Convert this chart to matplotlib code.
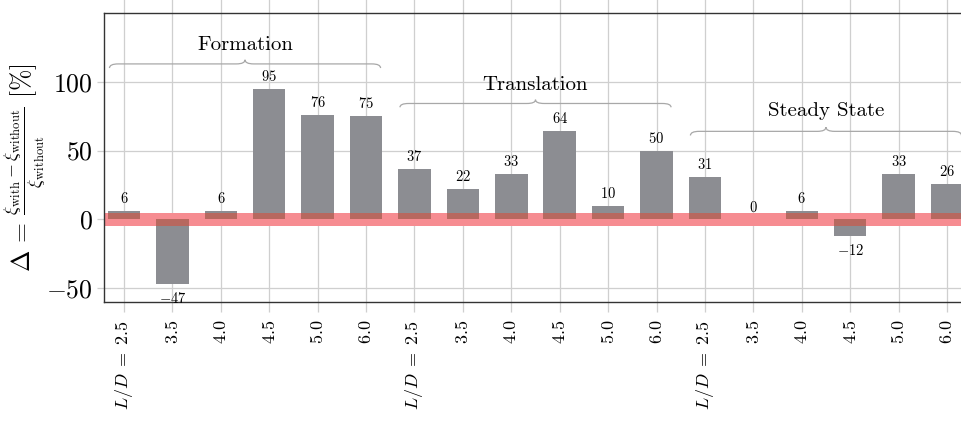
import matplotlib
matplotlib.use("Agg")
import matplotlib.pyplot as plt
from matplotlib.path import Path
from matplotlib.patches import PathPatch, Rectangle
import numpy as np

plt.rcParams["font.family"] = ["cmr10", "DejaVu Serif"]
plt.rcParams["mathtext.fontset"] = "cm"
plt.rcParams["axes.formatter.use_mathtext"] = True

# Relative change of xi with vs. without, per phase and L/D
phases = ["Formation", "Translation", "Steady State"]
ld_values = ["2.5", "3.5", "4.0", "4.5", "5.0", "6.0"]
formation = [6, -47, 6, 95, 76, 75]
translation = [37, 22, 33, 64, 10, 50]
steady_state = [31, 0, 6, -12, 33, 26]
y_ticks = [-50, 0, 50, 100]
band_halfwidth = 5

values = formation + translation + steady_state
n_per = len(ld_values)
x = np.arange(len(values))

tick_labels = []
for _ in phases:
    for j, ld in enumerate(ld_values):
        tick_labels.append(rf"$L/D\;=\;{ld}$" if j == 0 else rf"${ld}$")

# brace heights (ends, tip) per phase, in data units
brace_y = [(110, 116), (81.5, 87), (61, 67)]
label_y = [127, 97.5, 78.5]

grid_c = "#cfcfcf"
bar_c = "#8c8d92"
band_c = "#f68c91"
overlap_c = "#b7685f"

fig = plt.figure(figsize=(9.62, 4.26), dpi=100)
ax = fig.add_axes([104 / 962, 1 - 302 / 426, (967 - 104) / 962, (302 - 13) / 426])

xlim = (-0.413, len(values) - 1 + 0.413)
ax.set_xlim(*xlim)
ax.set_ylim(-60, 150)

# grid lines running past the frame
for xi in x:
    ax.plot([xi, xi], [-60, 165], color=grid_c, lw=0.9, zorder=0, clip_on=False)
for yv in y_ticks:
    ax.axhline(yv, color=grid_c, lw=0.9, zorder=0)

# tolerance band around zero
ax.axhspan(-band_halfwidth, band_halfwidth, color=band_c, lw=0, zorder=1)

ax.bar(x, values, width=0.67, color=bar_c, zorder=2)

# bar parts inside the band, tinted
band_clip = Rectangle((xlim[0], -band_halfwidth), xlim[1] - xlim[0], 2 * band_halfwidth,
                      transform=ax.transData)
tinted = ax.bar(x, values, width=0.67, color=overlap_c, zorder=3)
for p in tinted:
    p.set_clip_path(band_clip)

for xi, v in zip(x, values):
    if v >= 0:
        ax.text(xi, v + 9, rf"${v}$", ha="center", va="center", fontsize=10.5, zorder=4)
    else:
        ax.text(xi, v - 10.5, rf"${v}$", ha="center", va="center", fontsize=10.5, zorder=4)


def brace(ax, x0, x1, y_end, y_tip, color="#a8a8a8"):
    mid = 0.5 * (x0 + x1)
    y_mid = 0.5 * (y_end + y_tip)
    r = 0.18
    verts = [
        (x0, y_end), (x0, y_mid), (x0 + r, y_mid),
        (mid - r, y_mid), (mid, y_mid), (mid, y_tip),
        (mid, y_mid), (mid + r, y_mid),
        (x1 - r, y_mid), (x1, y_mid), (x1, y_end),
    ]
    codes = [
        Path.MOVETO, Path.CURVE3, Path.CURVE3,
        Path.LINETO, Path.CURVE3, Path.CURVE3,
        Path.CURVE3, Path.CURVE3,
        Path.LINETO, Path.CURVE3, Path.CURVE3,
    ]
    ax.add_patch(PathPatch(Path(verts, codes), fill=False, ec=color, lw=0.9,
                           zorder=4, clip_on=False))


for i, name in enumerate(phases):
    start = i * n_per
    end = start + n_per - 1
    brace(ax, start - 0.3, end + 0.3, *brace_y[i])
    ax.text(0.5 * (start + end), label_y[i], name, ha="center", va="center",
            fontsize=15, zorder=4)

ax.set_xticks(x)
ax.set_xticklabels(tick_labels, rotation=90, fontsize=13)
ax.set_yticks(y_ticks)
ax.tick_params(axis="x", length=7, color=grid_c, width=0.9, pad=6)
ax.tick_params(axis="y", length=5, color=grid_c, width=0.9, pad=3, labelsize=18.5)

ax.set_ylabel(r"$\Delta\, =\, \frac{\xi_{\mathrm{with}}-\xi_{\mathrm{without}}}{\xi_{\mathrm{without}}}\ [\%]$",
              fontsize=18.5, va="center")
ax.yaxis.set_label_coords(-0.0905, 0.465)

for s in ["left", "top", "bottom", "right"]:
    ax.spines[s].set_color("#333333")
    ax.spines[s].set_linewidth(1.0)

fig.savefig("out.png", dpi=100)
